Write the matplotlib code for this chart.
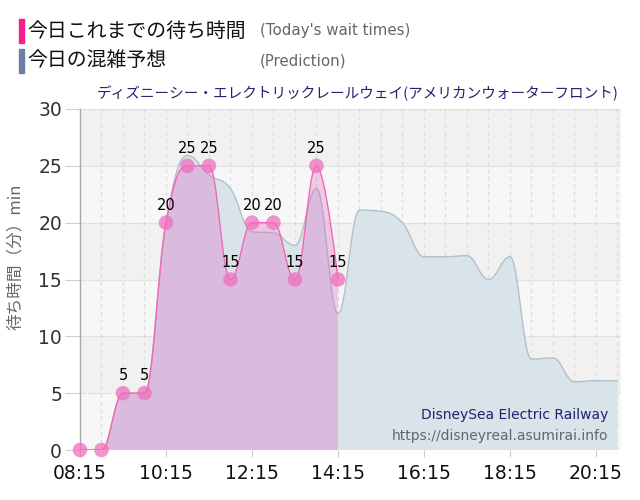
import matplotlib
matplotlib.use('Agg')
import matplotlib.pyplot as plt
from matplotlib.path import Path
from matplotlib.patches import PathPatch, Rectangle

plt.rcParams['font.family'] = ['DejaVu Sans', 'Noto Sans CJK JP']
JP = ['Noto Sans CJK JP', 'DejaVu Sans']

# ---------------- data ----------------
actual_times = ['08:15', '08:45', '09:15', '09:45', '10:15', '10:45', '11:15',
                '11:45', '12:15', '12:45', '13:15', '13:45', '14:15']
actual_values = [0, 0, 5, 5, 20, 25, 25, 15, 20, 20, 15, 25, 15]

pred_times = ['08:15', '08:45', '09:15', '09:45', '10:15', '10:45', '11:15',
              '11:45', '12:15', '12:45', '13:15', '13:45', '14:15', '14:45',
              '15:15', '15:45', '16:15', '16:45', '17:15', '17:45', '18:15',
              '18:45', '19:15', '19:45', '20:15', '20:45']
pred_values = [0, 0, 5, 5, 20, 25.9, 24.2, 23.0, 19.2, 19.1, 18.0, 23.0, 12.0,
               21.1, 21.0, 20.0, 17.0, 17.0, 17.1, 15.0, 17.0, 8.0, 8.1, 6.0,
               6.1, 6.1]

x_tick_labels = ['08:15', '10:15', '12:15', '14:15', '16:15', '18:15', '20:15']
y_ticks = [0, 5, 10, 15, 20, 25, 30]

title = 'ディズニーシー・エレクトリックレールウェイ(アメリカンウォーターフロント)'
legend_items = [('今日これまでの待ち時間', "(Today's wait times)", '#f0208c'),
                ('今日の混雑予想', '(Prediction)', '#6e7ea8')]
ylabel = '待ち時間（分）min'
wm1 = 'DisneySea Electric Railway'
wm2 = 'https://disneyreal.asumirai.info'


def hm(s):
    h, m = s.split(':')
    return int(h) * 60 + int(m)


def spline(xs, ys):
    """Highcharts-style spline as cubic Bezier path segments."""
    n = len(xs)
    sm, den = 1.5, 2.5
    rc = [None] * n
    verts = [(xs[0], ys[0])]
    codes = [Path.MOVETO]
    for i in range(1, n):
        x, y = xs[i], ys[i]
        lx, ly = xs[i - 1], ys[i - 1]
        lcx, lcy = x, y
        if i < n - 1:
            nx, ny = xs[i + 1], ys[i + 1]
            lcx = (sm * x + lx) / den
            lcy = (sm * y + ly) / den
            rcx = (sm * x + nx) / den
            rcy = (sm * y + ny) / den
            corr = ((rcy - lcy) * (rcx - x)) / (rcx - lcx) + y - rcy
            lcy += corr
            rcy += corr
            if lcy > ly and lcy > y:
                lcy = max(ly, y)
                rcy = 2 * y - lcy
            elif lcy < ly and lcy < y:
                lcy = min(ly, y)
                rcy = 2 * y - lcy
            if rcy > ny and rcy > y:
                rcy = max(ny, y)
                lcy = 2 * y - rcy
            elif rcy < ny and rcy < y:
                rcy = min(ny, y)
                lcy = 2 * y - rcy
            rc[i] = (rcx, rcy)
        prc = rc[i - 1] if rc[i - 1] is not None else (lx, ly)
        verts += [prc, (lcx, lcy), (x, y)]
        codes += [Path.CURVE4] * 3
    return verts, codes


def area_path(xs, ys):
    v, c = spline(xs, ys)
    v = v + [(xs[-1], 0), (xs[0], 0), (xs[0], ys[0])]
    c = c + [Path.LINETO, Path.LINETO, Path.CLOSEPOLY]
    return Path(v, c)


ax_x = [hm(t) for t in actual_times]
px_x = [hm(t) for t in pred_times]

W, H = 640, 500
fig = plt.figure(figsize=(W / 100, H / 100), dpi=100)
ax = fig.add_axes([80 / W, 50 / H, 541 / W, 341 / H])
ax.set_xlim(hm('08:15'), hm('08:15') + 755)
ax.set_ylim(0, 30)

# background bands
for k, y0 in enumerate(range(0, 30, 5)):
    ax.axhspan(y0, y0 + 5, color='#f7f7f7' if k % 2 == 0 else '#f1f1f1',
               zorder=0, lw=0)

# grid
for t in range(hm('08:15'), hm('21:00'), 30):
    ax.axvline(t, color='#dcdcdc', lw=0.9, ls=(0, (3, 3)), zorder=1)
for y in y_ticks:
    ax.axhline(y, color='#d0d0d0', lw=0.9, ls=(0, (1, 1)), zorder=1)

# prediction area
ax.add_patch(PathPatch(area_path(px_x, pred_values), facecolor='#d9e3ea',
                       edgecolor='none', zorder=2))
pv, pc = spline(px_x, pred_values)
ax.add_patch(PathPatch(Path(pv, pc), fill=False, edgecolor='#b2c0cb',
                       lw=1.0, zorder=3))

# actual area
ax.add_patch(PathPatch(area_path(ax_x, actual_values),
                       facecolor=(0.88, 0.38, 0.75, 0.30),
                       edgecolor='none', zorder=4))
av, ac = spline(ax_x, actual_values)
ax.add_patch(PathPatch(Path(av, ac), fill=False, edgecolor='#f068b8',
                       lw=1.0, zorder=5))
ax.scatter(ax_x, actual_values, s=110, color='#ef70be', alpha=0.75,
           edgecolors='none', zorder=6, clip_on=False)
for x, v in zip(ax_x, actual_values):
    if v > 0:
        ax.annotate(str(v), (x, v), xytext=(0, 7), textcoords='offset points',
                    ha='center', va='bottom', fontsize=10.5, color='#000000',
                    zorder=7)

# axes styling
for s in ['top', 'right', 'bottom']:
    ax.spines[s].set_visible(False)
ax.spines['left'].set_color('#aaaaaa')
ax.spines['left'].set_linewidth(1)
ax.set_yticks(y_ticks)
ax.set_yticklabels([str(v) for v in y_ticks])
ax.set_xticks([hm(t) for t in x_tick_labels])
ax.set_xticklabels(x_tick_labels)
ax.tick_params(axis='y', length=11, width=0.8, color='#d0d0d0', pad=2,
               labelsize=13.5, labelcolor='#333333')
ax.tick_params(axis='x', length=5, width=0.8, color='#cccccc', pad=5,
               labelsize=13.5, labelcolor='#111111')
ax.set_ylabel(ylabel, family=JP, fontsize=12, color='#666666')
ax.yaxis.set_label_coords(-0.1035, 0.566)

# watermark
fig.text(608 / W, 1 - 415 / H, wm1, ha='right', va='center', fontsize=10,
         color='#1f2370')
fig.text(608 / W, 1 - 436 / H, wm2, ha='right', va='center', fontsize=10,
         color='#666666')

# title
fig.text(619 / W, 1 - 93 / H, title, ha='right', va='center', family=JP,
         fontsize=10.5, color='#22226e')

# legend
rows = [31, 61]
for (jp, en, col), yc in zip(legend_items, rows):
    fig.patches.append(Rectangle((19 / W, 1 - (yc + 12) / H), 5 / W, 24 / H,
                                 transform=fig.transFigure, color=col,
                                 zorder=5))
    fig.text(27 / W, 1 - yc / H, jp, ha='left', va='center', family=JP,
             fontsize=14.3, color='#111111')
    fig.text(260 / W, 1 - yc / H, en, ha='left', va='center', fontsize=10.8,
             color='#666666')

fig.savefig('out.png', dpi=100)
